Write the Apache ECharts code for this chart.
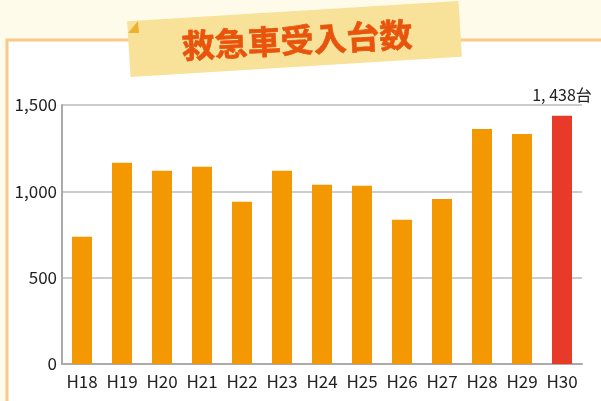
<!DOCTYPE html>
<html><head><meta charset="utf-8">
<script src="https://cdn.jsdelivr.net/npm/echarts@6/dist/echarts.min.js"></script>
<style>html,body{margin:0;padding:0;background:#FFFBEA;}#c{width:601px;height:401px;}</style>
</head><body><div id="c"></div>
<script>
const categories = ['H18','H19','H20','H21','H22','H23','H24','H25','H26','H27','H28','H29','H30'];
const values = [737, 1166, 1119, 1143, 940, 1119, 1038, 1032, 835, 955, 1361, 1332, 1438];
const yTicks = [0, 500, 1000, 1500];
const title = '救急車受入台数';
const unit = '台';

const chart = echarts.init(document.getElementById('c'));
const lastIdx = values.length - 1;
const labelFont = '"Liberation Sans Narrow", "Noto Sans CJK JP", sans-serif';
chart.setOption({
  backgroundColor: '#FFFBEA',
  animation: false,
  grid: { left: 62, right: 19, top: 105, bottom: 37 },
  xAxis: {
    type: 'category', data: categories,
    axisLine: { lineStyle: { color: '#AAAAAA', width: 2 } },
    axisTick: { show: false },
    axisLabel: { interval: 0, color: '#222', fontSize: 17, fontFamily: labelFont, margin: 9 }
  },
  yAxis: {
    type: 'value', min: yTicks[0], max: yTicks[yTicks.length-1], interval: 500,
    axisLine: { show: true, lineStyle: { color: '#AAAAAA', width: 2 } },
    axisTick: { show: false },
    splitLine: { lineStyle: { color: '#CCCCCC', width: 2 } },
    axisLabel: { color: '#222', fontSize: 17, fontFamily: labelFont, margin: 5,
      formatter: v => v.toLocaleString('en-US') }
  },
  series: [{
    type: 'bar', barWidth: '50%',
    data: values.map((v, i) => ({
      value: v,
      itemStyle: { color: i === lastIdx ? '#E83A29' : '#F39800' },
      label: i === lastIdx ? {
        show: true, position: 'top', distance: 13,
        formatter: p => p.value.toLocaleString('en-US').replace(',', ', ') + unit,
        color: '#222', fontSize: 16, fontFamily: labelFont
      } : { show: false }
    }))
  }],
  graphic: [
    { type: 'rect', z: -10, shape: { x: 7, y: 40, width: 620, height: 400 },
      style: { fill: '#FFFFFF', stroke: '#F9C88A', lineWidth: 3 } },
    { type: 'rect', z: 100, x: 294.5, y: 39, rotation: 3.5 * Math.PI / 180,
      shape: { x: -166, y: -28, width: 332, height: 56 },
      style: { fill: '#F8E29A' } },
    { type: 'polygon', z: 101,
      shape: { points: [[128, 33], [138, 21], [139, 33]] },
      style: { fill: '#EDB12F' } },
    { type: 'text', z: 102, x: 297, y: 40, rotation: 3 * Math.PI / 180,
      style: { text: title, fill: '#E9540D', stroke: '#E9540D', lineWidth: 0.6,
        font: 'bold 33px "Noto Sans CJK JP", sans-serif',
        align: 'center', verticalAlign: 'middle' } }
  ]
});
</script></body></html>
